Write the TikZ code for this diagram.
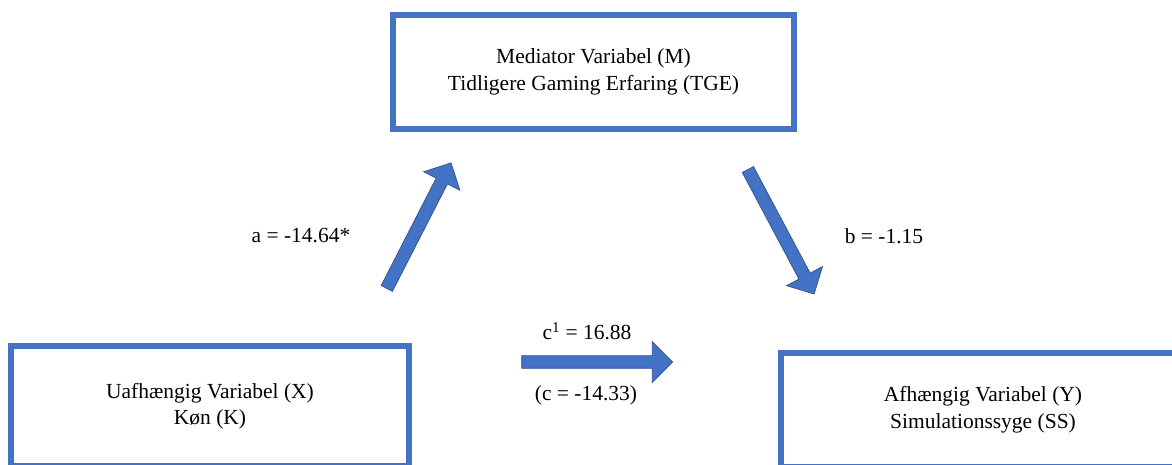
\documentclass[tikz,border=0pt]{standalone}
\usepackage{fontspec}
\setmainfont{Liberation Serif}
\usetikzlibrary{shapes, arrows, positioning}
\definecolor{boxblue}{RGB}{68,114,196}
\definecolor{edgeblue}{RGB}{47,82,143}
\tikzstyle{variabel} = [draw=boxblue, line width=5.5pt, rectangle, fill=white, align=center, font=\fontsize{21.5}{26.5}\selectfont]
\tikzstyle{pil} = [single arrow, draw=edgeblue, fill=boxblue, line width=0.7pt, inner sep=0pt, inner ysep=6pt, single arrow head extend=14pt, single arrow head indent=0pt, sloped, midway]
\tikzstyle{koef} = [font=\fontsize{21.5}{26.5}\selectfont]

\begin{document}
\begin{tikzpicture}[x=1pt, y=1pt]
	\useasboundingbox (0,0) rectangle (1172,465);
	\node [variabel, minimum width=401pt, minimum height=114pt] (M) at (593.5,393) {Mediator Variabel (M)\\Tidligere Gaming Erfaring (TGE)};
	\node [variabel, minimum width=398pt, minimum height=120pt] (X) at (210,59) {Uafhængig Variabel (X)\\Køn (K)};
	\node [variabel, minimum width=404pt, minimum height=114pt] (Y) at (983,55) {Afhængig Variabel (Y)\\Simulationssyge (SS)};
	\coordinate (aS) at (385,173);
	\coordinate (aE) at (450,300);
	\coordinate (bS) at (746,299);
	\coordinate (bE) at (813,173);
	\coordinate (cS) at (518,103);
	\coordinate (cE) at (670,103);
	\path (aS) -- (aE) node[pil, minimum height=141pt] (pilA) {};
	\path (bS) -- (bE) node[pil, minimum height=141pt] (pilB) {};
	\path (cS) -- (cE) node[pil, minimum height=151pt] (pilC) {};
	\node[koef] (labA) at (301,229) {a = -14.64*};
	\node[koef] (labB) at (884,229) {b = -1.15};
	\node[koef] (labC) at (587,134) {c\textsuperscript{1} = 16.88};
	\node[koef] (labD) at (586,70) {(c = -14.33)};
\end{tikzpicture}
\end{document}
